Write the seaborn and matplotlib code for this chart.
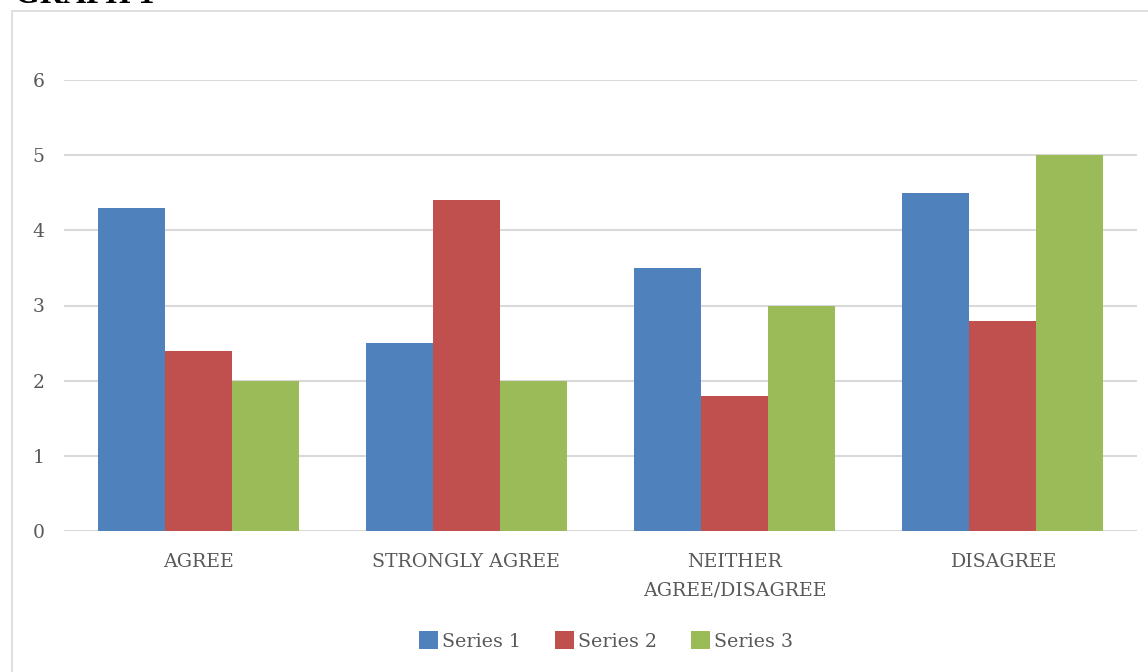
import matplotlib
matplotlib.use("Agg")
import matplotlib.pyplot as plt
import seaborn as sns
import pandas as pd
from matplotlib.patches import Rectangle

# Survey responses per category, one list per series
categories = ["AGREE", "STRONGLY AGREE", "NEITHER\nAGREE/DISAGREE", "DISAGREE"]
series_names = ["Series 1", "Series 2", "Series 3"]
series_1 = [4.3, 2.5, 3.5, 4.5]
series_2 = [2.4, 4.4, 1.8, 2.8]
series_3 = [2.0, 2.0, 3.0, 5.0]
y_ticks = [0, 1, 2, 3, 4, 5, 6]

colors = ["#4F81BD", "#C0504D", "#9BBB59"]

df = pd.DataFrame({
    "category": categories * 3,
    "series": [s for s in series_names for _ in categories],
    "value": series_1 + series_2 + series_3,
})

sns.set_theme(style="white")
plt.rcParams["font.family"] = ["DejaVu Serif"]

fig = plt.figure(figsize=(11.48, 6.72), dpi=100)
fig.patch.set_facecolor("white")

# Chart frame
fig.patches.append(Rectangle((12 / 1148, -0.1), 1.2, 1 - 11 / 672 + 0.1,
                             transform=fig.transFigure, fill=False,
                             edgecolor="#d9d9d9", linewidth=1.2, zorder=0))

fig.text(15 / 1148, 1 - 3 / 672, "GRAPH 1", family="Liberation Serif",
         fontweight="bold", fontsize=23, color="black", va="baseline", ha="left")

ax = fig.add_axes([64 / 1148, 1 - 531 / 672, (1137 - 64) / 1148, (531 - 80) / 672])
sns.barplot(data=df, x="category", y="value", hue="series", palette=colors,
            order=categories, hue_order=series_names, width=0.75, gap=0,
            saturation=1, edgecolor="none", linewidth=0, ax=ax, legend=True)

ax.set_ylim(0, 6)
ax.set_xlim(-0.5, 3.5)
ax.set_yticks(y_ticks)
ax.yaxis.grid(True, color="#d9d9d9", linewidth=1.5)
ax.set_axisbelow(True)
for s in ax.spines.values():
    s.set_visible(False)
ax.set_xlabel("")
ax.set_ylabel("")
ax.tick_params(axis="y", length=0, pad=14, labelsize=13.5, labelcolor="#595959")
ax.tick_params(axis="x", length=0, pad=16, labelsize=13.7, labelcolor="#595959")
for lbl in ax.get_xticklabels():
    lbl.set_linespacing(1.7)

ax.legend(loc="center", bbox_to_anchor=(0.505, (531 - 641) / (531 - 80)),
          ncol=3, frameon=False, fontsize=13.7, labelcolor="#595959",
          handlelength=1.0, handleheight=1.0, handletextpad=0.2,
          columnspacing=1.8)

fig.savefig("out.png", dpi=100)
